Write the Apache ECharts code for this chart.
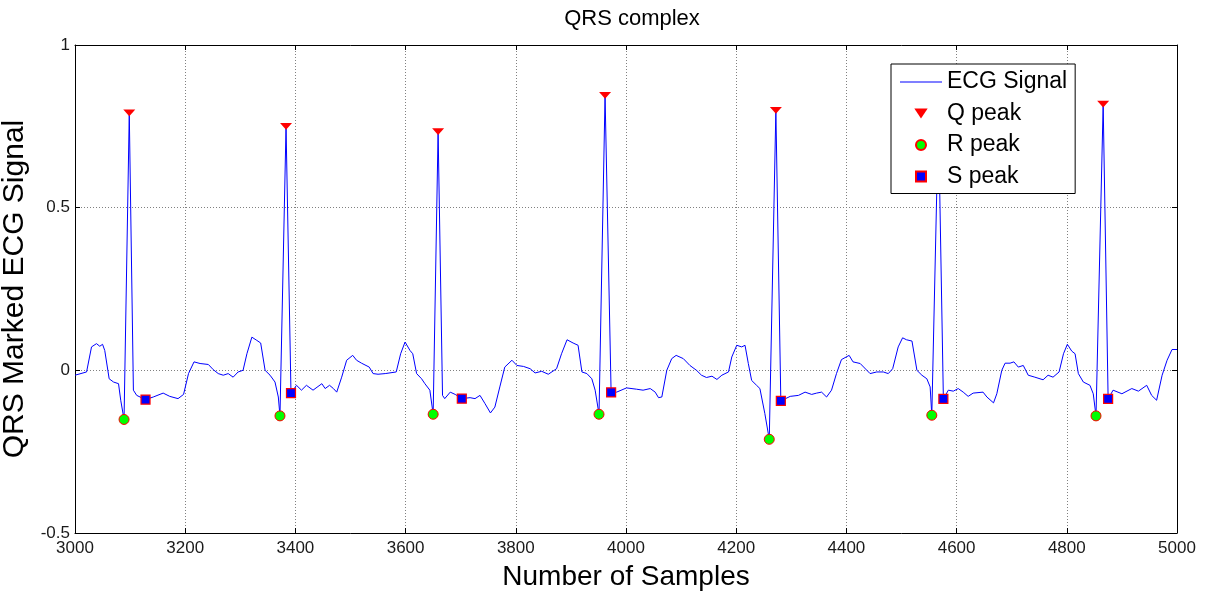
<!DOCTYPE html>
<html>
<head>
<meta charset="utf-8">
<script src="https://cdn.jsdelivr.net/npm/echarts@6/dist/echarts.min.js"></script>
<style>
html,body{margin:0;padding:0;background:#fff;}
#chart{width:1206px;height:597px;}
</style>
</head>
<body>
<div id="chart"></div>
<script>
// ECG signal samples
const ecgSamples = [3000,3021,3030,3039,3045,3050,3054,3062,3070,3079,3083,3089,3098.5,3106,3112,3128,3142,3160,3172,3187,3197,3206,3216,3227,3242,3251,3260,3269,3278,3287,3296,3305,3312,3321,3330,3337,3345,3354,3363,3369,3372,3383,3392,3402,3411,3420,3432,3448,3454,3462,3469,3475,3484,3493,3504,3511,3520,3534,3541,3550,3563,3583,3591,3599,3608,3613,3620,3629,3635,3644,3650,3659,3667,3671,3681,3690,3702,3717,3726,3735,3744,3754,3762,3771,3780,3793,3802,3814,3826,3835,3847,3859,3874,3883,3893,3904,3913,3920,3929,3938,3944,3951,3962,3973,3983,4001,4019,4031,4044,4053,4059,4065,4074,4083,4091,4104,4116,4128,4137,4146,4156,4165,4174,4186,4192,4201,4210,4216,4222,4228,4237,4243,4252,4260,4272,4281,4298,4313,4325,4337,4346,4355,4364,4373,4382,4391,4405,4412,4425,4443,4455,4467,4476,4484,4494,4502,4509,4519,4528,4537,4546,4552,4555,4567,4576,4585,4594,4603,4612,4621,4630,4648,4655,4667,4673,4682,4688,4697,4704,4712,4721,4730,4742,4757,4766,4775,4786,4794,4801,4809,4815,4821,4830,4842,4848,4853,4866,4875,4884,4900,4918,4930,4945,4954,4963,4973,4982,4991,5000];
const ecgValues = [-0.015,-0.005,0.072,0.082,0.074,0.080,0.061,-0.026,-0.036,-0.041,-0.092,-0.151,0.791,-0.061,-0.077,-0.090,-0.082,-0.070,-0.080,-0.087,-0.074,-0.010,0.026,0.021,0.018,0.002,-0.010,-0.015,-0.010,-0.021,-0.005,0.000,0.051,0.102,0.092,0.084,0.000,-0.015,-0.036,-0.082,-0.140,0.750,-0.070,-0.046,-0.061,-0.046,-0.061,-0.041,-0.056,-0.046,-0.056,-0.067,-0.021,0.031,0.046,0.031,0.022,0.010,-0.010,-0.012,-0.010,-0.005,0.051,0.087,0.061,0.051,-0.010,-0.026,-0.041,-0.061,-0.135,0.734,-0.077,-0.087,-0.067,-0.074,-0.087,-0.084,-0.087,-0.077,-0.102,-0.131,-0.113,-0.051,0.010,0.031,0.015,0.012,0.005,-0.008,-0.003,-0.012,0.005,0.051,0.094,0.084,0.077,-0.005,-0.010,-0.026,-0.061,-0.135,0.845,-0.068,-0.067,-0.054,-0.058,-0.061,-0.056,-0.067,-0.084,-0.082,0.000,0.036,0.046,0.036,0.015,0.000,-0.015,-0.022,-0.018,-0.028,-0.015,-0.005,0.041,0.077,0.072,0.077,0.021,-0.031,-0.046,-0.056,-0.133,-0.212,0.799,-0.094,-0.080,-0.077,-0.067,-0.074,-0.070,-0.067,-0.082,-0.061,-0.010,0.033,0.046,0.026,0.021,-0.010,-0.005,-0.005,-0.010,0.005,0.072,0.100,0.094,0.090,0.000,-0.015,-0.026,-0.051,-0.138,0.780,-0.088,-0.061,-0.064,-0.056,-0.067,-0.080,-0.070,-0.067,-0.082,-0.100,-0.072,0.000,0.022,0.022,0.026,0.010,0.015,-0.015,-0.021,-0.029,-0.015,-0.021,-0.005,0.051,0.080,0.059,0.051,-0.010,-0.036,-0.046,-0.072,-0.140,0.818,-0.088,-0.061,-0.072,-0.056,-0.064,-0.046,-0.077,-0.092,-0.015,0.031,0.064,0.064];

const qPeakSamples = [3098.5,3383,3659,3962,4272,4567,4866];
const qPeakValues  = [0.791,0.750,0.734,0.845,0.799,0.780,0.818];
const rPeakSamples = [3089,3372,3650,3951,4260,4555,4853];
const rPeakValues  = [-0.151,-0.140,-0.135,-0.135,-0.212,-0.138,-0.140];
const sPeakSamples = [3128,3392,3702,3973,4281,4576,4875];
const sPeakValues  = [-0.090,-0.070,-0.087,-0.068,-0.094,-0.088,-0.088];

const xTicks = {min:3000, max:5000, interval:200};
const yTicks = {min:-0.5, max:1, interval:0.5};

const zip = (a,b) => a.map((v,i) => [v, b[i]]);
const FONT = "'Liberation Sans', Arial, sans-serif";
const TRI_DOWN = 'path://M0,0 L12,0 L6,9 Z';
const SQUARE = 'path://M0,0 L10,0 L10,10 L0,10 Z';
const HLINE = 'path://M0,0 L42,0 L42,1 L0,1 Z';

const chart = echarts.init(document.getElementById('chart'), null, {renderer:'canvas'});
const gridLine = {show:true, lineStyle:{color:'#808080', type:[1,2], width:1}};
const baseAxisLine = {show:true, onZero:false, lineStyle:{color:'#000', width:1}};
const plainNum = v => String(v);

chart.setOption({
  animation:false,
  backgroundColor:'#fff',
  title:{
    text:'QRS complex', left:627, textAlign:'center', top:3,
    textStyle:{fontFamily:FONT, fontSize:22, fontWeight:'normal', color:'#000'}
  },
  grid:{left:75, top:45, width:1102, height:488, containLabel:false, outerBoundsMode:'none'},
  legend:{
    orient:'vertical', left:891, top:64,
    padding:[6,8,5,9],
    backgroundColor:'#fff', borderColor:'#000', borderWidth:1, borderRadius:0,
    itemWidth:42, itemHeight:10, itemGap:7.5,
    symbolKeepAspect:true,
    textStyle:{fontFamily:FONT, fontSize:23, color:'#000', lineHeight:24},
    data:[
      {name:'ECG Signal', icon:HLINE},
      {name:'Q peak', icon:TRI_DOWN},
      {name:'R peak', icon:'circle'},
      {name:'S peak', icon:SQUARE}
    ]
  },
  xAxis:[{
    type:'value', min:xTicks.min, max:xTicks.max, interval:xTicks.interval,
    position:'bottom',
    name:'Number of Samples', nameLocation:'middle', nameGap:30,
    nameTextStyle:{fontFamily:FONT, fontSize:28, color:'#000'},
    axisLine:baseAxisLine,
    axisTick:{show:true, inside:true, length:5, lineStyle:{color:'#000'}},
    axisLabel:{fontFamily:FONT, fontSize:17, color:'#1a1a1a', margin:7, formatter:plainNum},
    splitLine:gridLine
  },{
    type:'value', min:xTicks.min, max:xTicks.max, interval:xTicks.interval,
    position:'top',
    axisLine:baseAxisLine,
    axisTick:{show:true, inside:true, length:5, lineStyle:{color:'#000'}},
    axisLabel:{show:false}, splitLine:{show:false}
  }],
  yAxis:[{
    type:'value', min:yTicks.min, max:yTicks.max, interval:yTicks.interval,
    position:'left',
    name:'QRS Marked ECG Signal', nameLocation:'middle', nameGap:37,
    nameTextStyle:{fontFamily:FONT, fontSize:30, color:'#000'},
    axisLine:baseAxisLine,
    axisTick:{show:true, inside:true, length:5, lineStyle:{color:'#000'}},
    axisLabel:{fontFamily:FONT, fontSize:17, color:'#1a1a1a', margin:5, formatter:plainNum},
    splitLine:gridLine
  },{
    type:'value', min:yTicks.min, max:yTicks.max, interval:yTicks.interval,
    position:'right',
    axisLine:baseAxisLine,
    axisTick:{show:true, inside:true, length:5, lineStyle:{color:'#000'}},
    axisLabel:{show:false}, splitLine:{show:false}
  }],
  series:[{
    name:'ECG Signal', type:'line', xAxisIndex:0, yAxisIndex:0,
    data:zip(ecgSamples, ecgValues),
    showSymbol:false, symbol:'none', smooth:false,
    lineStyle:{color:'#0000ff', width:1},
    itemStyle:{color:'#0000ff'},
    z:2
  },{
    name:'Q peak', type:'scatter', data:zip(qPeakSamples, qPeakValues),
    symbol:TRI_DOWN, symbolSize:[12,9], symbolKeepAspect:true,
    itemStyle:{color:'#ff0000', opacity:1}, z:3
  },{
    name:'R peak', type:'scatter', data:zip(rPeakSamples, rPeakValues),
    symbol:'circle', symbolSize:10,
    itemStyle:{color:'#00ff00', borderColor:'#ff0000', borderWidth:1, opacity:1}, z:3
  },{
    name:'S peak', type:'scatter', data:zip(sPeakSamples, sPeakValues),
    symbol:'rect', symbolSize:9,
    itemStyle:{color:'#0000ff', borderColor:'#ff0000', borderWidth:1.2, opacity:1}, z:3
  }]
});
</script>
</body>
</html>
